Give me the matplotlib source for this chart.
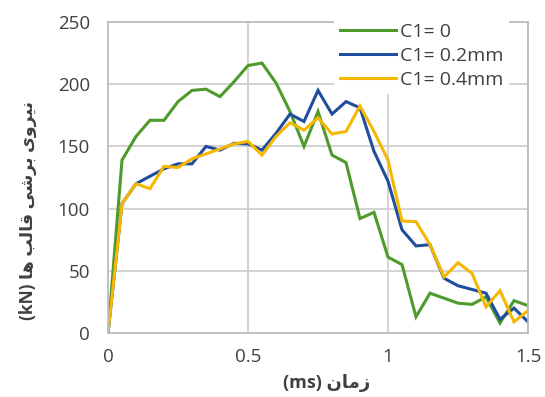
import matplotlib
matplotlib.use("Agg")
import matplotlib.pyplot as plt
import numpy as np

# time samples every 0.05 ms
time_ms = np.round(np.arange(0, 1.5001, 0.05), 2)

c1_0 = [0, 139, 158, 171, 171, 186, 195, 196, 190, 202, 215, 217, 201, 178, 150,
        178, 143, 137, 92, 97, 61, 55, 13, 32, 28, 24, 23, 29, 8, 26, 22]
c1_02 = [0, 104, 120, 126, 132, 136, 136, 150, 147, 152.5, 152, 147, 160.5, 176, 170,
         195, 176, 186, 181, 146, 122, 83, 70, 71, 44, 38, 35, 32, 11, 20, 9]
c1_04 = [0, 104, 120, 116, 134, 133, 140, 144, 148, 152, 154, 143, 158, 169, 163,
         173, 160, 162, 182.5, 162, 139, 90, 89.5, 71, 45, 56.5, 48, 21, 34, 9, 18]

series_labels = ["C1= 0", "C1= 0.2mm", "C1= 0.4mm"]
series_colors = ["#4e9a2c", "#1f4e9e", "#f5b700"]

# Persian titles, pre-shaped (presentation forms) in visual order
xlabel_txt = "(ms) " + "\uFEE5\uFE8E\uFEE3\uFEAF"
ylabel_txt = ("(kN) " + "\uFE8E\uFEEB" + " " + "\uFE90\uFEDF\uFE8E\uFED7" + " "
              + "\uFBFD\uFEB7\uFEAE\uFE91" + " " + "\uFBFC\uFEED\uFEAE\uFBFF\uFEE7")

fam = ["Open Sans", "DejaVu Sans"]

fig = plt.figure(figsize=(5.45, 3.97), dpi=100)
ax = fig.add_axes([108 / 545, 64 / 397, 420 / 545, 311 / 397])

for vals, lab, col in zip([c1_0, c1_02, c1_04], series_labels, series_colors):
    ax.plot(time_ms, vals, color=col, linewidth=2.2, label=lab, solid_joinstyle='miter')

ax.set_xlim(0, 1.5)
ax.set_ylim(0, 250)
ax.set_xticks([0, 0.5, 1, 1.5])
ax.set_xticklabels(["0", "0.5", "1", "1.5"])
ax.set_yticks([0, 50, 100, 150, 200, 250])
ax.grid(True, color="#d0d0d0", linewidth=1.3)
ax.set_axisbelow(True)
for s in ax.spines.values():
    s.set_color("#bdbdbd")
    s.set_linewidth(1.3)
ax.tick_params(length=0, labelsize=13.5, labelcolor="#404040")
ax.tick_params(axis='y', pad=13)
ax.tick_params(axis='x', pad=11)
for t in ax.get_xticklabels() + ax.get_yticklabels():
    t.set_family(fam)

ax.set_xlabel(xlabel_txt, fontsize=13, fontweight='bold', color="#404040", family=fam)
ax.set_ylabel(ylabel_txt, fontsize=12.5, fontweight='bold', color="#404040", family=fam)
ax.xaxis.label.set_va('center')
ax.yaxis.label.set_va('center')
ax.xaxis.set_label_coords(0.521, -0.161)
ax.yaxis.set_label_coords(-0.19, 0.395)

leg = ax.legend(loc="upper left", bbox_to_anchor=(0.538, 1.016), frameon=True,
                handlelength=2.9, handletextpad=0.2, labelspacing=0.3, borderpad=0.3,
                borderaxespad=0, prop={"family": "Open Sans", "size": 14})
leg.get_frame().set_facecolor("white")
leg.get_frame().set_edgecolor("none")
leg.get_frame().set_alpha(1)
for t in leg.get_texts():
    t.set_color("#404040")

fig.savefig("out.png", dpi=100)
